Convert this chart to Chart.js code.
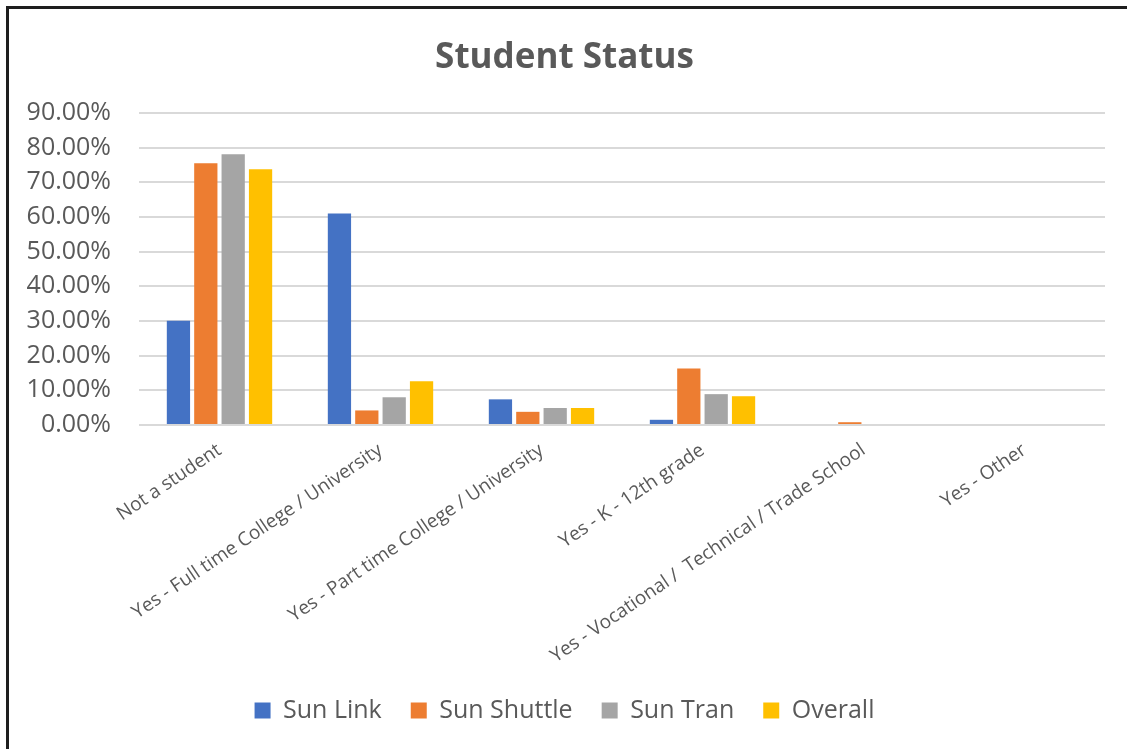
<!DOCTYPE html>
<html>
<head>
<meta charset="utf-8">
<script src="https://cdn.jsdelivr.net/npm/chart.js@4/dist/chart.umd.min.js"></script>
<style>
    html, body { margin: 0; padding: 0; background: #fff; overflow: hidden; }
    #wrap { position: relative; width: 1127px; height: 749px; }
    #frame {
        position: absolute; left: 6px; top: 6px; width: 1200px; height: 800px;
        border-left: 3px solid #1e1e1e; border-top: 3px solid #1e1e1e;
        pointer-events: none;
    }
</style>
</head>
<body>
<div id="wrap">
    <canvas id="studentChart"></canvas>
    <div id="frame"></div>
</div>
<script>
    // chart data
    const categories = [
        'Not a student',
        'Yes - Full time College / University',
        'Yes - Part time College / University',
        'Yes - K - 12th grade',
        'Yes - Vocational /  Technical / Trade School',
        'Yes - Other'
    ];
    const sunLink    = [30.1, 61.0, 7.4, 1.5, 0, 0];
    const sunShuttle = [75.5, 4.2, 3.8, 16.3, 0.8, 0];
    const sunTran    = [78.1, 8.0, 4.9, 8.9, 0, 0];
    const overall    = [73.8, 12.6, 4.9, 8.3, 0, 0];
    const yTicks = [0, 10, 20, 30, 40, 50, 60, 70, 80, 90];

    const seriesColors = ['#4472C4', '#ED7D31', '#A5A5A5', '#FFC000'];
    const textColor = '#595959';
    const fontFamily = '"Open Sans", "Noto Sans", sans-serif';

    function makeDataset(label, values, color) {
        return {
            label: label,
            data: values,
            backgroundColor: color,
            borderColor: color,
            borderWidth: 0,
            categoryPercentage: 0.68,
            barPercentage: 0.85
        };
    }

    const ctx = document.getElementById('studentChart');
    new Chart(ctx.getContext('2d'), {
        type: 'bar',
        data: {
            labels: categories,
            datasets: [
                makeDataset('Sun Link', sunLink, seriesColors[0]),
                makeDataset('Sun Shuttle', sunShuttle, seriesColors[1]),
                makeDataset('Sun Tran', sunTran, seriesColors[2]),
                makeDataset('Overall', overall, seriesColors[3])
            ]
        },
        options: {
            responsive: true,
            maintainAspectRatio: false,
            animation: false,
            layout: { padding: { top: 14, right: 22, bottom: 16, left: 24 } },
            plugins: {
                title: {
                    display: true,
                    text: 'Student Status',
                    color: textColor,
                    font: { family: fontFamily, size: 35, weight: 'bold' },
                    padding: { top: 23, bottom: 34 }
                },
                legend: {
                    position: 'bottom',
                    labels: {
                        color: textColor,
                        font: { family: fontFamily, size: 25 },
                        boxWidth: 16,
                        boxHeight: 16,
                        padding: 29
                    }
                },
                tooltip: { enabled: false }
            },
            scales: {
                x: {
                    grid: { display: false },
                    border: { display: false },
                    ticks: {
                        color: textColor,
                        font: { family: fontFamily, size: 19 },
                        minRotation: 34,
                        maxRotation: 34,
                        autoSkip: false,
                        padding: 6
                    },
                    afterFit: function(scale) { scale.height = 244; }
                },
                y: {
                    min: 0,
                    max: 90,
                    border: { display: false },
                    grid: { color: '#d9d9d9', lineWidth: 2, drawTicks: false },
                    afterBuildTicks: function(scale) {
                        scale.ticks = yTicks.map(v => ({ value: v }));
                    },
                    ticks: {
                        color: textColor,
                        font: { family: fontFamily, size: 25 },
                        padding: 28,
                        callback: function(value) { return value.toFixed(2) + '%'; }
                    },
                    afterFit: function(scale) { scale.width = 115; }
                }
            }
        }
    });
</script>
</body>
</html>
